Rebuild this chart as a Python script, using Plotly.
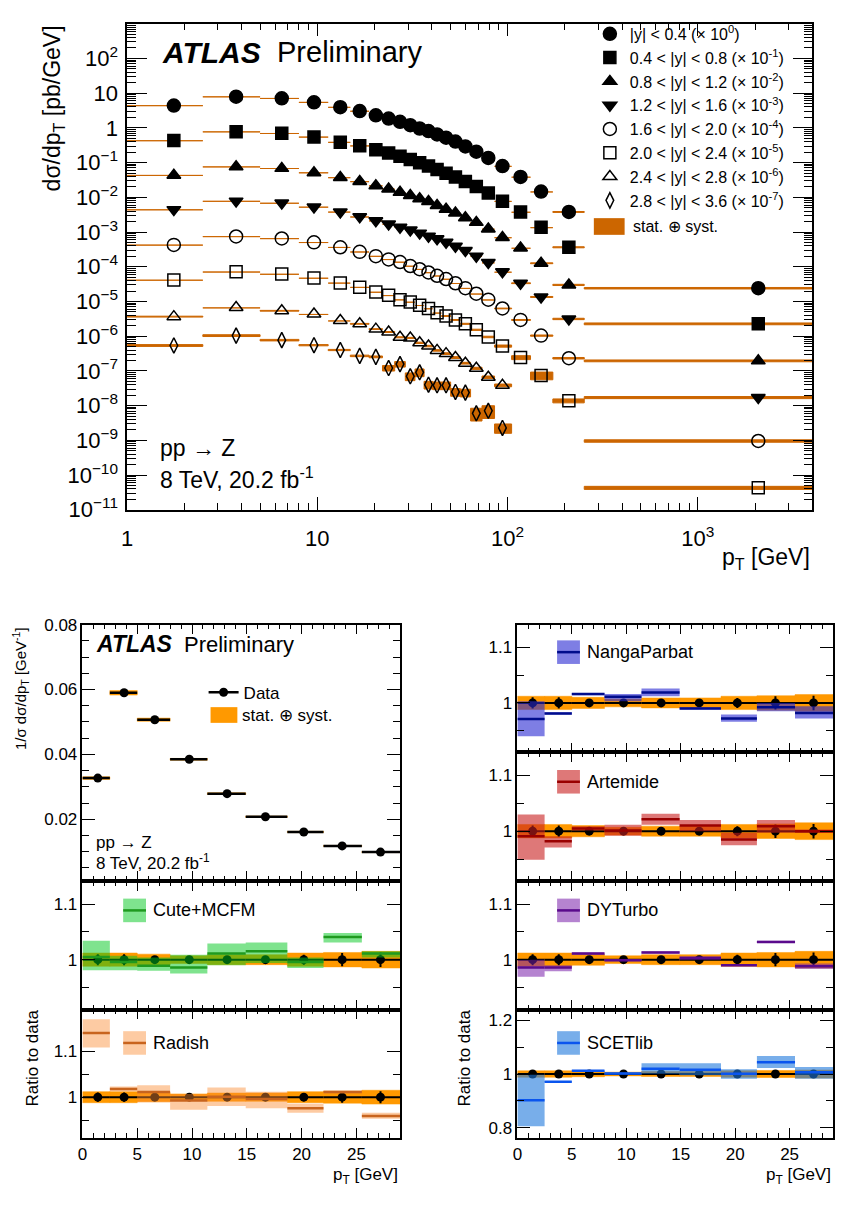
import plotly.graph_objects as go

W, H = 853, 1217
FONT = "Liberation Sans, Arial, sans-serif"

# ---------------- top panel data ----------------
top_edges = [0, 2.5, 5, 8, 11.4, 14.9, 18.7, 22, 25.5, 29, 32.6, 36.4, 40.4, 44.9,
             50.2, 56.4, 63.9, 73.4, 85.4, 105, 132, 173, 253, 8000]
top_centers = [1.76, 3.74, 6.5, 9.6, 13.2, 16.7, 20.3, 23.7, 27.2, 30.8, 34.5, 38.4,
               42.6, 47.5, 53.2, 60, 68.5, 79.2, 94, 117, 150, 210, 2080]

rap_labels = ["|y| < 0.4", "0.4 < |y| < 0.8", "0.8 < |y| < 1.2", "1.2 < |y| < 1.6",
              "1.6 < |y| < 2.0", "2.0 < |y| < 2.4", "2.4 < |y| < 2.8", "2.8 < |y| < 3.6"]
scale_exp = [0, -1, -2, -3, -4, -5, -6, -7]

xsec_y00_04 = [4.41, 7.9, 7.1, 5.47, 3.94, 3.04, 2.30, 1.85, 1.49, 1.20, 0.96, 0.81, 0.65,
               0.524, 0.404, 0.292, 0.206, 0.136, 0.0793, 0.0387, 0.0146, 0.00379, 2.41e-5]
xsec_y04_08 = [4.31, 7.74, 6.95, 5.47, 3.86, 3.05, 2.35, 1.89, 1.52, 1.22, 0.984, 0.793, 0.638,
               0.492, 0.387, 0.285, 0.206, 0.1337, 0.0776, 0.0379, 0.0137, 0.00364, 2.27e-5]
xsec_y08_12 = [4.32, 7.59, 6.82, 5.13, 3.71, 2.85, 2.16, 1.74, 1.39, 1.124, 0.908, 0.76, 0.586,
               0.452, 0.356, 0.257, 0.19, 0.123, 0.0698, 0.0349, 0.0126, 0.0030, 1.95e-5]
xsec_y12_16 = [4.42, 7.76, 6.82, 5.26, 3.79, 2.74, 2.11, 1.70, 1.37, 1.15, 0.93, 0.76, 0.638,
               0.504, 0.388, 0.293, 0.202, 0.132, 0.0713, 0.0335, 0.0135, 0.00314, 1.71e-5]
xsec_y16_20 = [4.25, 7.45, 6.53, 5.04, 3.64, 2.69, 2.02, 1.63, 1.37, 1.05, 0.85, 0.685, 0.55,
               0.443, 0.335, 0.242, 0.167, 0.113, 0.0629, 0.0294, 0.0104, 0.00232, 9.6e-6]
xsec_y20_24 = [4.16, 7.13, 6.15, 4.73, 3.42, 2.58, 1.87, 1.50, 1.13, 0.97, 0.78, 0.63, 0.475,
               0.381, 0.294, 0.227, 0.153, 0.095, 0.052, 0.0243, 0.0074, 0.00138, 4.3e-6]
xsec_y24_28 = [3.66, 6.7, 5.4, 4.34, 2.82, 2.27, 1.6, 1.32, 0.93, 0.89, 0.644, 0.519, 0.39,
               0.315, 0.243, 0.167, 0.119, 0.066, 0.0384]
xsec_y28_36 = [5.4, 10.4, 7.7, 5.5, 4.0, 2.71, 2.54, 1.21, 1.57, 0.70, 0.91, 0.40, 0.384,
               0.384, 0.248, 0.237, 0.060, 0.071, 0.0228]

relunc_y00_04 = [0.010, 0.008, 0.008, 0.008, 0.008, 0.008, 0.008, 0.008, 0.008, 0.009, 0.009, 0.009,
                 0.010, 0.010, 0.010, 0.011, 0.012, 0.013, 0.015, 0.018, 0.022, 0.030, 0.050]
relunc_y04_08 = [0.010, 0.008, 0.008, 0.008, 0.008, 0.008, 0.008, 0.008, 0.009, 0.009, 0.009, 0.010,
                 0.010, 0.010, 0.011, 0.012, 0.013, 0.014, 0.016, 0.020, 0.025, 0.035, 0.060]
relunc_y08_12 = [0.010, 0.009, 0.009, 0.009, 0.009, 0.009, 0.009, 0.009, 0.010, 0.010, 0.010, 0.011,
                 0.011, 0.012, 0.012, 0.013, 0.014, 0.016, 0.018, 0.022, 0.028, 0.040, 0.060]
relunc_y12_16 = [0.012, 0.010, 0.010, 0.010, 0.010, 0.010, 0.010, 0.011, 0.011, 0.012, 0.012, 0.013,
                 0.013, 0.014, 0.015, 0.016, 0.018, 0.020, 0.022, 0.026, 0.032, 0.045, 0.070]
relunc_y16_20 = [0.012, 0.011, 0.011, 0.011, 0.011, 0.011, 0.012, 0.012, 0.013, 0.013, 0.014, 0.015,
                 0.015, 0.016, 0.017, 0.018, 0.020, 0.022, 0.026, 0.030, 0.040, 0.050, 0.080]
relunc_y20_24 = [0.015, 0.012, 0.012, 0.012, 0.012, 0.013, 0.014, 0.015, 0.016, 0.018, 0.020, 0.022,
                 0.025, 0.028, 0.030, 0.035, 0.040, 0.050, 0.070, 0.130, 0.250, 0.130, 0.100]
relunc_y24_28 = [0.030, 0.025, 0.025, 0.025, 0.025, 0.028, 0.030, 0.032, 0.035, 0.040, 0.045, 0.050,
                 0.050, 0.055, 0.060, 0.060, 0.070, 0.080, 0.090]
relunc_y28_36 = [0.060, 0.060, 0.050, 0.040, 0.040, 0.050, 0.060, 0.180, 0.180, 0.250, 0.250, 0.250,
                 0.250, 0.250, 0.250, 0.250, 0.400, 0.400, 0.300]

xsec_series = [xsec_y00_04, xsec_y04_08, xsec_y08_12, xsec_y12_16,
               xsec_y16_20, xsec_y20_24, xsec_y24_28, xsec_y28_36]
relunc_series = [relunc_y00_04, relunc_y04_08, relunc_y08_12, relunc_y12_16,
                 relunc_y16_20, relunc_y20_24, relunc_y24_28, relunc_y28_36]

# ---------------- bottom panels data ----------------
bot_edges = [0, 2.5, 5, 8, 11.4, 14.9, 18.7, 22, 25.5, 29]
bot_centers = [1.4, 3.8, 6.6, 9.75, 13.2, 16.7, 20.2, 23.7, 27.2]
norm_xsec = [0.0327, 0.0590, 0.0507, 0.0385, 0.0279, 0.0208, 0.0161, 0.0118, 0.0099]
data_relunc = [0.012, 0.012, 0.010, 0.007, 0.009, 0.009, 0.012, 0.013, 0.015]
data_relerr = [0.010, 0.010, 0.006, 0.004, 0.004, 0.005, 0.009, 0.012, 0.013]

model_names = ["Cute+MCFM", "Radish", "NangaParbat", "Artemide", "DYTurbo", "SCETlib"]
cute_val = [1.005, 0.996, 0.989, 0.986, 1.011, 1.015, 0.996, 1.041, 1.011]
cute_lo = [0.981, 0.981, 0.980, 0.975, 0.990, 0.994, 0.985, 1.031, 1.004]
cute_hi = [1.034, 1.007, 1.004, 1.009, 1.029, 1.031, 1.004, 1.048, 1.015]
radish_val = [1.139, 1.018, 1.011, 0.993, 1.001, 0.996, 0.976, 1.011, 0.959]
radish_lo = [1.108, 1.013, 0.989, 0.973, 0.981, 0.976, 0.966, 1.008, 0.953]
radish_hi = [1.169, 1.023, 1.026, 1.007, 1.021, 1.012, 0.986, 1.014, 0.966]
nanga_val = [0.971, 0.981, 1.016, 1.011, 1.019, 0.990, 0.972, 0.992, 0.982]
nanga_lo = [0.940, 0.979, 1.014, 1.003, 1.012, 0.988, 0.966, 0.985, 0.972]
nanga_hi = [1.003, 0.983, 1.018, 1.016, 1.026, 0.992, 0.979, 1.000, 0.994]
arte_val = [0.991, 0.982, 1.005, 1.001, 1.0215, 1.010, 0.985, 1.009, 1.000]
arte_lo = [0.949, 0.971, 1.001, 0.992, 1.0115, 1.000, 0.975, 0.997, 0.997]
arte_hi = [1.030, 0.991, 1.009, 1.0115, 1.031, 1.020, 0.997, 1.020, 1.003]
dyt_val = [0.986, 0.986, 1.011, 0.999, 1.013, 1.003, 0.990, 1.032, 0.988]
dyt_lo = [0.969, 0.979, 1.009, 0.997, 1.011, 1.000, 0.988, 1.030, 0.983]
dyt_hi = [1.000, 0.990, 1.013, 1.001, 1.015, 1.006, 0.992, 1.034, 0.993]
scet_val = [0.902, 0.971, 1.012, 1.002, 1.020, 1.016, 1.001, 1.044, 1.007]
scet_lo = [0.806, 0.969, 1.010, 0.998, 1.001, 0.995, 0.982, 1.022, 0.982]
scet_hi = [0.997, 0.973, 1.014, 1.006, 1.040, 1.040, 1.018, 1.067, 1.026]

model_vals = [cute_val, radish_val, nanga_val, arte_val, dyt_val, scet_val]
model_los = [cute_lo, radish_lo, nanga_lo, arte_lo, dyt_lo, scet_lo]
model_his = [cute_hi, radish_hi, nanga_hi, arte_hi, dyt_hi, scet_hi]
model_line_colors = ["#1f9a1f", "#c8641e", "#000c8c", "#990000", "#5a0a8c", "#0a55ee"]
model_band_colors = ["rgba(0,200,30,0.5)", "rgba(250,140,50,0.45)", "rgba(40,40,210,0.6)",
                     "rgba(200,30,30,0.6)", "rgba(120,30,170,0.55)", "rgba(30,120,220,0.6)"]

# ---------------- helpers ----------------
def fx(p):
    return p / W


def fy(p):
    return 1 - p / H


def rect_path(x0s, x1s, y0s, y1s):
    xs, ys = [], []
    for a, b, c, d in zip(x0s, x1s, y0s, y1s):
        xs += [a, b, b, a, a, None]
        ys += [c, c, d, d, c, None]
    return xs, ys


def seg_path(x0s, x1s, vals):
    xs, ys = [], []
    for a, b, v in zip(x0s, x1s, vals):
        xs += [a, b, None]
        ys += [v, v, None]
    return xs, ys


fig = go.Figure()

# ---------------- top panel ----------------
symbols = ["circle", "square", "triangle-up", "triangle-down", "circle-open",
           "square-open", "triangle-up-open", "diamond-tall-open"]
sizes = [13, 12, 12, 12, 13, 12, 12, 11]
BAND = "#cc6600"
XMIN_TOP = 0.5

for vals, unc, k in zip(xsec_series, relunc_series, scale_exp):
    n = len(vals)
    sv = [v * 10 ** k for v in vals]
    lo_x = [max(e, XMIN_TOP) for e in top_edges[:n]]
    hi_x = top_edges[1:n + 1]
    bx, by = rect_path(lo_x, hi_x, [v * (1 - u) for v, u in zip(sv, unc)],
                       [v * (1 + u) for v, u in zip(sv, unc)])
    fig.add_trace(go.Scatter(x=bx, y=by, mode="lines", fill="toself", fillcolor=BAND,
                             line=dict(color=BAND, width=1), showlegend=False,
                             hoverinfo="skip", xaxis="x", yaxis="y"))

for i, (vals, k) in enumerate(zip(xsec_series, scale_exp)):
    n = len(vals)
    sv = [v * 10 ** k for v in vals]
    fig.add_trace(go.Scatter(
        x=top_centers[:n], y=sv, mode="markers",
        marker=dict(symbol=symbols[i], size=sizes[i], color="black",
                    line=dict(color="black", width=1.5)),
        name=f"{rap_labels[i]} (× 10<sup>{k}</sup>)", legend="legend",
        xaxis="x", yaxis="y"))

# ---------------- bottom-left normalized cross section ----------------
nb = len(norm_xsec)
bx, by = rect_path(bot_edges[:nb], bot_edges[1:],
                   [v * (1 - u) for v, u in zip(norm_xsec, data_relunc)],
                   [v * (1 + u) for v, u in zip(norm_xsec, data_relunc)])
fig.add_trace(go.Scatter(x=bx, y=by, mode="lines", fill="toself", fillcolor="#ff9900",
                         line=dict(color="#ff9900", width=0.5), showlegend=False,
                         hoverinfo="skip", xaxis="x2", yaxis="y2"))
sx, sy = seg_path(bot_edges[:nb], bot_edges[1:], norm_xsec)
fig.add_trace(go.Scatter(x=sx, y=sy, mode="lines", line=dict(color="black", width=2.5),
                         showlegend=False, xaxis="x2", yaxis="y2"))
fig.add_trace(go.Scatter(x=bot_centers, y=norm_xsec, mode="markers",
                         marker=dict(color="black", size=9),
                         error_y=dict(type="data", array=[v * e for v, e in zip(norm_xsec, data_relerr)],
                                      width=0, thickness=2, color="black"),
                         showlegend=False, xaxis="x2", yaxis="y2"))
fig.add_trace(go.Scatter(x=[None], y=[None], mode="lines+markers", name="Data",
                         marker=dict(color="black", size=9), line=dict(color="black", width=2.5),
                         legend="legend2", xaxis="x2", yaxis="y2"))

# ---------------- ratio panels ----------------
ratio_axes = [("x3", "y3"), ("x4", "y4"), ("x5", "y5"), ("x6", "y6"), ("x7", "y7"), ("x8", "y8")]
ones = [1.0] * nb
for m, (xa, ya) in enumerate(ratio_axes):
    bx, by = rect_path(bot_edges[:nb], bot_edges[1:],
                       [1 - u for u in data_relunc], [1 + u for u in data_relunc])
    fig.add_trace(go.Scatter(x=bx, y=by, mode="lines", fill="toself", fillcolor="#ff9900",
                             line=dict(color="#ff9900", width=0.5), showlegend=False,
                             hoverinfo="skip", xaxis=xa, yaxis=ya))
    sx, sy = seg_path(bot_edges[:nb], bot_edges[1:], ones)
    fig.add_trace(go.Scatter(x=sx, y=sy, mode="lines", line=dict(color="black", width=2),
                             showlegend=False, xaxis=xa, yaxis=ya))
    fig.add_trace(go.Scatter(x=bot_centers, y=ones, mode="markers",
                             marker=dict(color="black", size=9),
                             error_y=dict(type="data", array=data_relerr, width=0,
                                          thickness=2, color="black"),
                             showlegend=False, xaxis=xa, yaxis=ya))
    bx, by = rect_path(bot_edges[:nb], bot_edges[1:], model_los[m], model_his[m])
    fig.add_trace(go.Scatter(x=bx, y=by, mode="lines", fill="toself",
                             fillcolor=model_band_colors[m],
                             line=dict(color="rgba(0,0,0,0)", width=0), showlegend=False,
                             hoverinfo="skip", xaxis=xa, yaxis=ya))
    sx, sy = seg_path(bot_edges[:nb], bot_edges[1:], model_vals[m])
    fig.add_trace(go.Scatter(x=sx, y=sy, mode="lines",
                             line=dict(color=model_line_colors[m], width=2.5),
                             showlegend=False, xaxis=xa, yaxis=ya))

# ---------------- axes ----------------
def axis(**kw):
    d = dict(showline=True, linecolor="black", linewidth=1.5, mirror="allticks",
             ticks="inside", tickcolor="black", tickwidth=1.2, showgrid=False,
             zeroline=False, tickfont=dict(size=17, color="black", family=FONT))
    d.update(kw)
    return d


top_minor_x = [m * 10 ** d for d in range(0, 4) for m in range(2, 10) if m * 10 ** d < 4000]
top_minor_y = [m * 10.0 ** d for d in range(-11, 3) for m in range(2, 10)]
top_major_y = [10.0 ** d for d in range(-11, 3)]
top_major_y_text = []
for d in range(-11, 3):
    if d == 0:
        top_major_y_text.append("1")
    elif d == 1:
        top_major_y_text.append("10")
    elif d < 0:
        top_major_y_text.append(f"10<sup>\u2212{-d}</sup>")
    else:
        top_major_y_text.append(f"10<sup>{d}</sup>")

BX_L = [fx(77), fx(397)]
BX_R = [fx(515), fx(833)]

layout_axes = dict(
    xaxis=axis(type="log", range=[0, 3.602], domain=[fx(122), fx(812)], anchor="y",
               tickmode="array", tickvals=[1, 10, 100, 1000],
               ticktext=["1", "10", "10<sup>2</sup>", "10<sup>3</sup>"], ticklen=13,
               ticklabelstandoff=8, tickfont=dict(size=22, color="black", family=FONT),
               minor=dict(tickmode="array", tickvals=top_minor_x, ticks="inside",
                          ticklen=7, tickcolor="black", tickwidth=1)),
    yaxis=axis(type="log", range=[-11, 3], domain=[fy(510), fy(15)], anchor="x",
               tickmode="array", tickvals=top_major_y, ticktext=top_major_y_text, ticklen=20,
               ticklabelstandoff=3, tickfont=dict(size=22, color="black", family=FONT),
               minor=dict(tickmode="array", tickvals=top_minor_y, ticks="inside",
                          ticklen=9, tickcolor="black", tickwidth=1)),
    xaxis2=axis(range=[0, 29], domain=BX_L, anchor="y2", dtick=5, ticklen=10,
                showticklabels=False, minor=dict(dtick=1, ticklen=5, ticks="inside", tickcolor="black")),
    yaxis2=axis(range=[0.001, 0.08], domain=[fy(888), fy(627)], anchor="x2",
                tickmode="array", tickvals=[0.02, 0.04, 0.06, 0.08],
                ticktext=["0.02", "0.04", "0.06", "0.08"], ticklen=13,
                minor=dict(tickmode="linear", tick0=0, dtick=0.005, ticklen=7,
                           ticks="inside", tickcolor="black")),
)

ratio_domains = {
    "3": (BX_L, [fy(1019), fy(888)], [0.91, 1.142], [1, 1.1], ["1", "1.1"], [0.95, 1.05], False),
    "4": (BX_L, [fy(1150), fy(1019)], [0.911, 1.19], [1, 1.1], ["1", "1.1"], [0.95, 1.05], True),
    "5": (BX_R, [fy(757), fy(627)], [0.911, 1.141], [1, 1.1], ["1", "1.1"], [0.95, 1.05], False),
    "6": (BX_R, [fy(888), fy(757)], [0.911, 1.141], [1, 1.1], ["1", "1.1"], [0.95, 1.05], False),
    "7": (BX_R, [fy(1019), fy(888)], [0.91, 1.142], [1, 1.1], ["1", "1.1"], [0.95, 1.05], False),
    "8": (BX_R, [fy(1150), fy(1019)], [0.761, 1.24], [0.8, 1, 1.2], ["0.8", "1", "1.2"], [0.9, 1.1], True),
}
for k, (xd, yd, yr, tv, tt, mv, showx) in ratio_domains.items():
    layout_axes["xaxis" + k] = axis(range=[0, 29], domain=xd, anchor="y" + k, dtick=5,
                                    ticklen=10, showticklabels=showx,
                                    minor=dict(dtick=1, ticklen=5, ticks="inside",
                                               tickcolor="black"))
    layout_axes["yaxis" + k] = axis(range=yr, domain=yd, anchor="x" + k, tickmode="array",
                                    tickvals=tv, ticktext=tt, ticklen=13,
                                    minor=dict(tickmode="array", tickvals=mv, ticklen=7,
                                               ticks="inside", tickcolor="black"))

fig.update_layout(**layout_axes)

# ---------------- annotations & legend icons ----------------
ann = []
shapes = []


def text(x, y, s, size, xanchor="left", yanchor="middle", angle=0):
    ann.append(dict(x=fx(x), y=fy(y), xref="paper", yref="paper", text=s, showarrow=False,
                    xanchor=xanchor, yanchor=yanchor, textangle=angle,
                    font=dict(size=size, color="black", family=FONT)))


# top
text(155, 44, "<b><i>ATLAS</i></b>", 30)
text(271, 44, "Preliminary", 29)
text(153, 447, "pp \u2192 Z", 23)
text(153, 478, "8 TeV, 20.2 fb<sup>-1</sup>", 23)
text(48, 15, "d\u03c3/dp<sub>T</sub> [pb/GeV]", 23, xanchor="center", yanchor="top", angle=-90)
text(812, 560, "p<sub>T</sub> [GeV]", 23, xanchor="right")
shapes.append(dict(type="rect", xref="paper", yref="paper", x0=fx(592), x1=fx(623),
                   y0=fy(230), y1=fy(213), fillcolor=BAND, line=dict(width=0)))
text(629, 221, "stat. \u2295 syst.", 16)

# bottom-left
text(89, 647, "<b><i>ATLAS</i></b>", 23)
text(177, 647, "Preliminary", 22)
text(89, 849, "pp \u2192 Z", 17)
text(89, 869, "8 TeV, 20.2 fb<sup>-1</sup>", 17)
shapes.append(dict(type="rect", xref="paper", yref="paper", x0=fx(206), x1=fx(233),
                   y0=fy(727), y1=fy(711), fillcolor="#ff9900", line=dict(width=0)))
text(236, 719, "stat. \u2295 syst.", 17)
text(14, 627, "1/\u03c3 d\u03c3/dp<sub>T</sub> [GeV<sup>-1</sup>]", 15, xanchor="center",
     yanchor="top", angle=-90)
text(27, 1068, "Ratio to data", 17, xanchor="center", angle=-90)
text(462, 1068, "Ratio to data", 17, xanchor="center", angle=-90)
text(397, 1188, "p<sub>T</sub> [GeV]", 17, xanchor="right")
text(833, 1188, "p<sub>T</sub> [GeV]", 17, xanchor="right")

# model labels
label_pos = [(118, 918), (118, 1053), (555, 655), (555, 787), (555, 918), (555, 1053)]
for m, (lx, ly) in enumerate(label_pos):
    shapes.append(dict(type="rect", xref="paper", yref="paper", x0=fx(lx), x1=fx(lx + 23),
                       y0=fy(ly + 12), y1=fy(ly - 12), fillcolor=model_band_colors[m],
                       line=dict(width=0)))
    shapes.append(dict(type="line", xref="paper", yref="paper", x0=fx(lx), x1=fx(lx + 23),
                       y0=fy(ly), y1=fy(ly), line=dict(color=model_line_colors[m], width=2.5)))
    text(lx + 28, ly, model_names[m], 18)

fig.update_layout(
    width=W, height=H, margin=dict(l=0, r=0, t=0, b=0),
    paper_bgcolor="white", plot_bgcolor="rgba(0,0,0,0)",
    font=dict(family=FONT, color="black"),
    annotations=ann, shapes=shapes,
    legend=dict(x=fx(588), y=fy(8), xanchor="left", yanchor="top",
                font=dict(size=16, color="black", family=FONT),
                bgcolor="rgba(0,0,0,0)", tracegroupgap=0),
    legend2=dict(x=fx(199), y=fy(678), xanchor="left", yanchor="top",
                 font=dict(size=17, color="black", family=FONT),
                 bgcolor="rgba(0,0,0,0)"),
)

fig.write_html("out.html")
